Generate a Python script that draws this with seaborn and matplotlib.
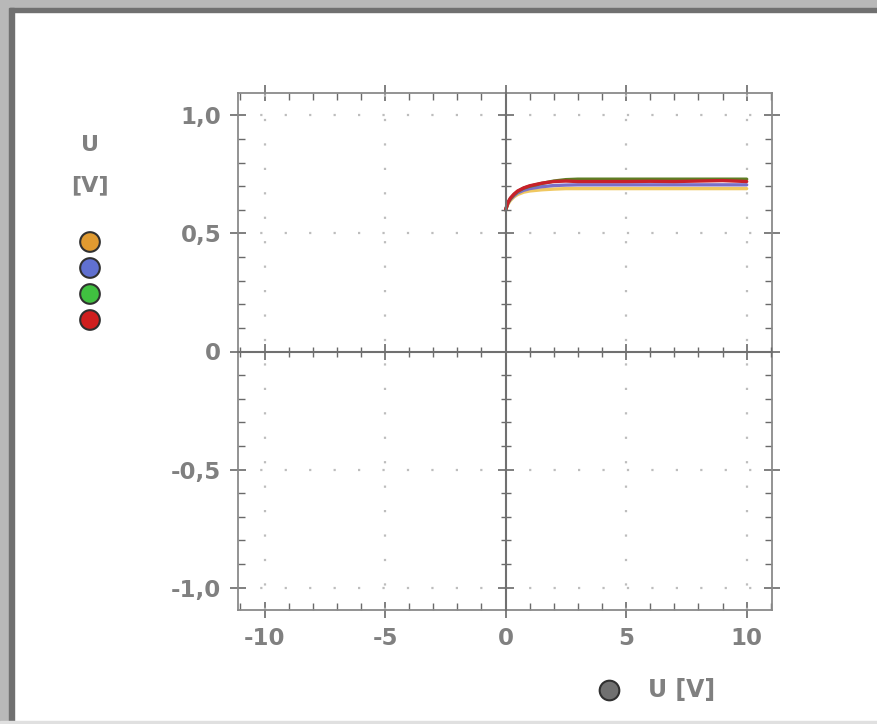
import matplotlib
matplotlib.use("Agg")
import matplotlib.pyplot as plt
import matplotlib.patches as mpatches
import seaborn as sns
import pandas as pd
import numpy as np

# ---- data ----
x_vals = [0, 0.1, 0.2, 0.35, 0.5, 0.75, 1.0, 1.5, 2.0, 2.5, 3, 4, 5, 6, 7, 8, 9, 10]
u_orange = [0.60, 0.625, 0.64, 0.655, 0.665, 0.675, 0.68, 0.685, 0.688, 0.69, 0.69, 0.69, 0.69, 0.69, 0.69, 0.69, 0.69, 0.69]
u_blue = [0.60, 0.63, 0.645, 0.66, 0.672, 0.683, 0.69, 0.698, 0.703, 0.705, 0.706, 0.706, 0.706, 0.706, 0.706, 0.706, 0.706, 0.706]
u_green = [0.60, 0.63, 0.648, 0.665, 0.678, 0.692, 0.70, 0.712, 0.722, 0.728, 0.73, 0.73, 0.73, 0.73, 0.73, 0.73, 0.73, 0.73]
u_red = [0.60, 0.632, 0.65, 0.667, 0.68, 0.693, 0.702, 0.713, 0.72, 0.722, 0.72, 0.72, 0.72, 0.721, 0.72, 0.722, 0.724, 0.72]

series_names = ["orange", "blue", "green", "red"]
line_colors = ["#f0c860", "#7a70c8", "#5e7e24", "#c8202a"]
marker_colors = ["#e09a30", "#6070d0", "#40c040", "#d02020"]

x_ticks = [-10, -5, 0, 5, 10]
x_tick_labels = ["-10", "-5", "0", "5", "10"]
y_ticks = [-1.0, -0.5, 0, 0.5, 1.0]
y_tick_labels = ["-1,0", "-0,5", "0", "0,5", "1,0"]

df = pd.DataFrame({
    "x": x_vals * 4,
    "U": u_orange + u_blue + u_green + u_red,
    "series": sum([[n] * len(x_vals) for n in series_names], []),
})

sns.set_style("white")
plt.rcParams["font.family"] = ["DejaVu Sans"]

W, H = 877, 724
fig = plt.figure(figsize=(W / 100, H / 100), dpi=100)
fig.patch.set_facecolor("white")

# window frame (gray borders of the screenshot)
fig.add_artist(mpatches.Rectangle((0, 1 - 8 / H), 1, 8 / H, transform=fig.transFigure, color="#b8b8b8", zorder=0))
fig.add_artist(mpatches.Rectangle((0, 1 - 12 / H), 1, 4 / H, transform=fig.transFigure, color="#707070", zorder=0))
fig.add_artist(mpatches.Rectangle((0, 0), 9 / W, 1, transform=fig.transFigure, color="#b8b8b8", zorder=0))
fig.add_artist(mpatches.Rectangle((9 / W, 0), 5 / W, 1 - 8 / H, transform=fig.transFigure, color="#707070", zorder=0))
fig.add_artist(mpatches.Rectangle((0, 0), 1, 3 / H, transform=fig.transFigure, color="#e0e0e0", zorder=0))

pos = [238 / W, 1 - 610 / H, (772 - 238) / W, (610 - 93) / H]
ax = fig.add_axes(pos)
ax.set_facecolor("white")

sns.lineplot(data=df, x="x", y="U", hue="series", palette=dict(zip(series_names, line_colors)),
             linewidth=2.4, legend=False, ax=ax, zorder=5)

ax.set_xlim(-11.1, 11.05)
ax.set_ylim(-1.095, 1.095)
ax.set_xlabel("")
ax.set_ylabel("")

grey = "#808080"
tick_col = "#6a6a6a"
for s in ax.spines.values():
    s.set_visible(True)
    s.set_color("#8a8a8a")
    s.set_linewidth(1.3)

ax.set_xticks(x_ticks)
ax.set_xticklabels(x_tick_labels)
ax.set_yticks(y_ticks)
ax.set_yticklabels(y_tick_labels)
ax.set_xticks(np.arange(-11, 12, 1), minor=True)
ax.set_yticks(np.arange(-1.0, 1.05, 0.1), minor=True)
ax.tick_params(which="major", direction="inout", length=12, width=1.2, color=tick_col,
               top=True, right=True, left=True, bottom=True,
               labelsize=16.5, labelcolor=grey, pad=6)
ax.tick_params(which="minor", direction="in", length=5, width=1.0, color=tick_col,
               top=True, right=True, left=True, bottom=True)
for lab in ax.get_xticklabels() + ax.get_yticklabels():
    lab.set_fontweight("bold")

# dotted grid
for xv in [-10, -5, 5, 10]:
    ax.axvline(xv, color="#bdbdbd", lw=1.6, linestyle=(0, (1, 10)), zorder=1)
for yv in [-1.0, -0.5, 0.5, 1.0]:
    ax.axhline(yv, color="#bdbdbd", lw=1.6, linestyle=(1, (1, 10)), zorder=1)

# center axes through zero
ax2 = fig.add_axes(pos, sharex=ax, sharey=ax)
ax2.patch.set_alpha(0)
ax2.set_zorder(ax.get_zorder() + 1)
for k in ["top", "right"]:
    ax2.spines[k].set_visible(False)
for k in ["left", "bottom"]:
    ax2.spines[k].set_position("zero")
    ax2.spines[k].set_color("#707070")
    ax2.spines[k].set_linewidth(1.5)
ax2.tick_params(which="both", direction="inout", color=tick_col, left=True, bottom=True,
                top=False, right=False, labelleft=False, labelbottom=False)
ax2.tick_params(which="major", length=12, width=1.2)
ax2.tick_params(which="minor", length=7, width=1.0)

# left legend
fig.text(90 / W, 1 - 145 / H, "U", ha="center", va="center", fontsize=16, color=grey, fontweight="bold")
fig.text(90 / W, 1 - 185 / H, "[V]", ha="center", va="center", fontsize=16, color=grey, fontweight="bold")
lax = fig.add_axes([0, 0, 1, 1])
lax.set_xlim(0, W)
lax.set_ylim(H, 0)
lax.axis("off")
lax.patch.set_alpha(0)
leg_x = [90] * 4
leg_y = [242, 268, 294, 320]
lax.scatter(leg_x, leg_y, s=200, c=marker_colors, edgecolors="#303030", linewidths=1.5, zorder=3)
lax.scatter([609], [690], s=200, c=["#707070"], edgecolors="#303030", linewidths=1.5, zorder=3)
fig.text(648 / W, 1 - 690 / H, "U [V]", ha="left", va="center", fontsize=17, color=grey, fontweight="bold")

fig.savefig("out.png", dpi=100, facecolor="white")
